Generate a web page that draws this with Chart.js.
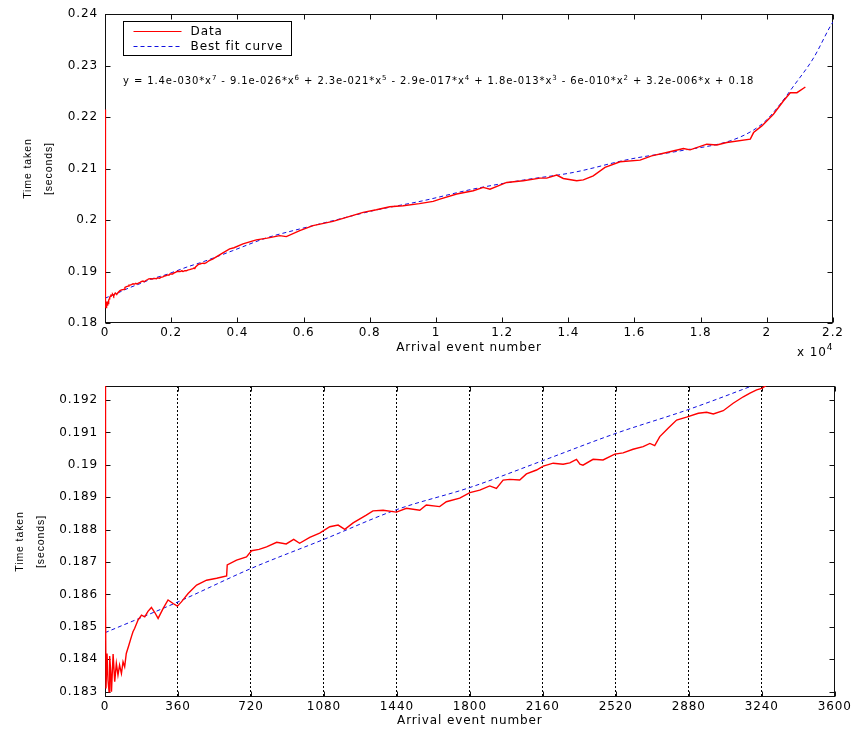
<!DOCTYPE html>
<html>
<head>
<meta charset="utf-8">
<title>Time taken vs arrival event number</title>
<script src="https://cdn.jsdelivr.net/npm/chart.js@4.4.0/dist/chart.umd.min.js"></script>
<style>
  html, body { margin: 0; padding: 0; background: #fff; }
  #wrap { position: relative; width: 853px; height: 729px; }
  #topChart { position: absolute; left: 0; top: 0; }
  #bottomChart { position: absolute; left: 0; top: 370px; }
</style>
</head>
<body>
<div id="wrap">
  <canvas id="topChart" width="853" height="370"></canvas>
  <canvas id="bottomChart" width="853" height="359"></canvas>
</div>
<script>
// measured data (arrival event number, time taken in seconds)
const dataX = [0, 2, 3, 5, 10, 15, 20, 23, 28, 32, 40, 48, 56, 64, 72, 81, 89, 97, 105, 118,
  130, 138, 146, 163, 180, 196, 212, 229, 245, 262, 287, 311, 336, 357, 377, 410, 452, 501, 551, 600,
  603, 649, 698, 723, 760, 797, 847, 894, 931, 960, 1010, 1059, 1109, 1150, 1183, 1224, 1289, 1322, 1372, 1438,
  1487, 1553, 1585, 1651, 1684, 1750, 1800, 1849, 1898, 1931, 1964, 1997, 2046, 2079, 2129, 2162, 2211, 2260, 2293, 2326,
  2343, 2358, 2408, 2457, 2515, 2556, 2605, 2655, 2688, 2712, 2737, 2778, 2820, 2869, 2927, 2968, 3001, 3050, 3099, 3149,
  3182, 3215, 3240, 3265, 3350, 3500, 3766, 3900, 4170, 4573, 4900, 5280, 5480, 5885, 6285, 6890, 7397, 7800, 8200, 8606,
  9010, 9500, 9918, 10120, 10627, 11130, 11430, 11634, 12140, 12640, 13145, 13350, 13650, 13850, 14255, 14455, 14755, 15110, 15565, 16170,
  16520, 16975, 17480, 17680, 18185, 18490, 18790, 19500, 19600, 19850, 20200, 20500, 20710, 20910, 21165];
const dataY = [0.2215, 0.1867, 0.1857, 0.1831, 0.18418, 0.18335, 0.1830, 0.1841, 0.18365, 0.1830, 0.18416, 0.18331, 0.18387, 0.18351, 0.18382, 0.18356, 0.18392, 0.18377, 0.18418, 0.18444,
  0.18469, 0.18485, 0.18495, 0.18521, 0.18536, 0.18531, 0.18548, 0.1856, 0.18545, 0.18526, 0.18557, 0.18583, 0.18572, 0.18564, 0.18577, 0.18603, 0.18629, 0.18644, 0.1865, 0.18657,
  0.18691, 0.18706, 0.18716, 0.18735, 0.18739, 0.18747, 0.18761, 0.18756, 0.1877, 0.18758, 0.18776, 0.18789, 0.18809, 0.18814, 0.18801, 0.18821, 0.18845, 0.18858, 0.1886, 0.18854,
  0.18866, 0.1886, 0.18876, 0.18871, 0.18886, 0.18897, 0.18914, 0.18922, 0.18935, 0.18927, 0.18953, 0.18955, 0.18953, 0.18972, 0.18984, 0.18996, 0.19005, 0.19002, 0.19006, 0.19017,
  0.19002, 0.18999, 0.19017, 0.19015, 0.19033, 0.19037, 0.19048, 0.19056, 0.19066, 0.19059, 0.19087, 0.19113, 0.19138, 0.19147, 0.19159, 0.19162, 0.19157, 0.19167, 0.1919, 0.1921,
  0.19221, 0.19231, 0.19236, 0.19246, 0.1928, 0.1934, 0.1944, 0.19462, 0.19537, 0.19614, 0.1965, 0.19698, 0.19678, 0.19795, 0.19891, 0.19975, 0.20072, 0.20149, 0.202, 0.20258,
  0.20279, 0.2032, 0.20363, 0.20408, 0.20506, 0.2057, 0.20634, 0.206, 0.20731, 0.20764, 0.20815, 0.20815, 0.20874, 0.20808, 0.20764, 0.2078, 0.2086, 0.21022, 0.21132, 0.21165,
  0.21248, 0.21312, 0.2139, 0.21364, 0.21474, 0.2146, 0.21506, 0.21572, 0.217, 0.2183, 0.22056, 0.22314, 0.22475, 0.22475, 0.22585];

// best fit curve
const fitX = [0, 360, 720, 1080, 1440, 1800, 2160, 2520, 2880, 3240, 3865, 4880, 5885, 6890, 8100, 9615, 11130, 12640, 14150, 15865,
  17380, 18890, 19600, 20000, 20400, 20810, 21415, 21920, 22000];
const fitY = [0.18482, 0.18577, 0.1868, 0.1877, 0.18862, 0.1893, 0.19013, 0.19097, 0.19171, 0.19255, 0.19407, 0.19653, 0.19827, 0.19988, 0.20182, 0.20376, 0.20603, 0.20777, 0.20925, 0.21184,
  0.21345, 0.21539, 0.2175, 0.2195, 0.2225, 0.22605, 0.23153, 0.23767, 0.2385];

const topXTicks = [0, 2000, 4000, 6000, 8000, 10000, 12000, 14000, 16000, 18000, 20000, 22000];
const topXLabels = ['0', '0.2', '0.4', '0.6', '0.8', '1', '1.2', '1.4', '1.6', '1.8', '2', '2.2'];
const topYTicks = [0.18, 0.19, 0.2, 0.21, 0.22, 0.23, 0.24];
const topYLabels = ['0.18', '0.19', '0.2', '0.21', '0.22', '0.23', '0.24'];
const bottomXTicks = [0, 360, 720, 1080, 1440, 1800, 2160, 2520, 2880, 3240, 3600];
const bottomYTicks = [0.183, 0.184, 0.185, 0.186, 0.187, 0.188, 0.189, 0.19, 0.191, 0.192];
const bottomYLabels = ['0.183', '0.184', '0.185', '0.186', '0.187', '0.188', '0.189', '0.19', '0.191', '0.192'];

const seriesLabels = ['Data', 'Best fit curve'];
// fitted polynomial text, pieces flagged true are superscripts
const equationParts = [
  ['y = 1.4e-030*x', false], ['7', true], [' - 9.1e-026*x', false], ['6', true],
  [' + 2.3e-021*x', false], ['5', true], [' - 2.9e-017*x', false], ['4', true],
  [' + 1.8e-013*x', false], ['3', true], [' - 6e-010*x', false], ['2', true],
  [' + 3.2e-006*x + 0.18', false]
];

const FONT = "'DejaVu Sans', sans-serif";
Chart.defaults.font.family = FONT;
Chart.defaults.color = '#000';

const pts = (xs, ys) => xs.map((x, i) => ({x: x, y: ys[i]}));

// matlab style box with inward ticks, legend box and extra text
const matlabFrame = {
  id: 'matlabFrame',
  beforeDraw(chart) {
    chart.ctx.letterSpacing = '0.9px';
  },
  beforeDatasetsDraw(chart) {
    const {ctx, chartArea: a, scales} = chart;
    const l = Math.round(a.left) + 0.5, r = Math.round(a.right) - 0.5;
    const t = Math.round(a.top) + 0.5, b = Math.round(a.bottom) - 0.5;
    ctx.save();
    ctx.strokeStyle = '#111';
    ctx.lineWidth = 1;
    ctx.setLineDash([]);
    ctx.strokeRect(l, t, r - l, b - t);
    ctx.beginPath();
    scales.x.ticks.forEach(tk => {
      const px = Math.round(scales.x.getPixelForValue(tk.value)) + 0.5;
      ctx.moveTo(px, b); ctx.lineTo(px, b - 5);
      ctx.moveTo(px, t); ctx.lineTo(px, t + 5);
    });
    scales.y.ticks.forEach(tk => {
      const py = Math.round(scales.y.getPixelForValue(tk.value)) + 0.5;
      ctx.moveTo(l, py); ctx.lineTo(l + 5, py);
      ctx.moveTo(r, py); ctx.lineTo(r - 5, py);
    });
    ctx.stroke();
    ctx.restore();
  },
  afterDatasetsDraw(chart, args, opts) {
    const {ctx, chartArea: a} = chart;
    ctx.save();
    ctx.fillStyle = '#000';
    ctx.textBaseline = 'alphabetic';
    if (opts.legend) {
      const bx = Math.round(a.left) + 18.5, by = Math.round(a.top) + 7.5;
      ctx.fillStyle = '#fff';
      ctx.fillRect(bx, by, 168, 34);
      ctx.strokeStyle = '#000';
      ctx.lineWidth = 1;
      ctx.strokeRect(bx, by, 168, 34);
      chart.data.datasets.forEach((ds, i) => {
        const y = by + 10 + i * 15;
        ctx.strokeStyle = ds.borderColor;
        ctx.setLineDash(ds.borderDash || []);
        ctx.beginPath();
        ctx.moveTo(bx + 10, y);
        ctx.lineTo(bx + 58, y);
        ctx.stroke();
        ctx.setLineDash([]);
        ctx.fillStyle = '#000';
        ctx.font = '12px ' + FONT;
        ctx.textBaseline = 'middle';
        ctx.fillText(ds.label, bx + 67, y);
      });
    }
    if (opts.equation) {
      let x = Math.round(a.left) + 18;
      const base = Math.round(a.top) + 70;
      ctx.fillStyle = '#000';
      ctx.textBaseline = 'alphabetic';
      equationParts.forEach(([txt, sup]) => {
        ctx.font = (sup ? '7px ' : '10px ') + FONT;
        ctx.fillText(txt, x, sup ? base - 4 : base);
        x += ctx.measureText(txt).width;
      });
    }
    if (opts.exponent) {
      const x0 = Math.round(a.right) - 36;
      const base = Math.round(a.bottom) + 33;
      ctx.fillStyle = '#000';
      ctx.textBaseline = 'alphabetic';
      ctx.font = '12px ' + FONT;
      ctx.fillText('x 10', x0, base);
      const w = ctx.measureText('x 10').width;
      ctx.font = '9px ' + FONT;
      ctx.fillText('4', x0 + w, base - 6);
    }
    ctx.restore();
  }
};

function fixedTicks(list) {
  return scale => { scale.ticks = list.map(v => ({value: v})); };
}

function makeChart(id, o) {
  return new Chart(document.getElementById(id), {
    type: 'line',
    data: {
      datasets: [{
        label: seriesLabels[0],
        data: pts(dataX, dataY),
        borderColor: '#ff0000',
        borderWidth: 1.4,
        pointRadius: 0,
        tension: 0
      }, {
        label: seriesLabels[1],
        data: pts(fitX, fitY),
        borderColor: '#1010e0',
        borderWidth: 1,
        borderDash: [4, 3],
        pointRadius: 0,
        cubicInterpolationMode: 'monotone'
      }]
    },
    options: {
      responsive: false,
      animation: false,
      devicePixelRatio: 1,
      layout: {padding: o.padding},
      plugins: {
        legend: {display: false},
        tooltip: {enabled: false},
        matlabFrame: o.frame
      },
      scales: {
        x: {
          type: 'linear',
          min: o.xMin, max: o.xMax,
          afterBuildTicks: fixedTicks(o.xTicks),
          afterFit: s => { s.height = o.xHeight; },
          grid: o.xGrid,
          border: {display: false, dash: [2, 2]},
          ticks: {
            autoSkip: false, maxRotation: 0, padding: o.xPad,
            font: {size: 12},
            callback: (v, i) => o.xLabels[i]
          },
          title: {
            display: true, text: 'Arrival event number',
            font: {size: 12}, padding: {top: 0, bottom: o.xTitlePad}
          }
        },
        y: {
          type: 'linear',
          min: o.yMin, max: o.yMax,
          afterBuildTicks: fixedTicks(o.yTicks),
          afterFit: s => { s.width = o.yWidth; },
          grid: {display: false, drawTicks: false},
          border: {display: false},
          ticks: {
            padding: 7,
            font: {size: 12},
            callback: (v, i) => o.yLabels[i]
          },
          title: {
            display: true, text: ['Time taken', '[seconds]'],
            font: {family: "'Liberation Sans', Arial, sans-serif", size: 10.5, lineHeight: 2.0},
            padding: {top: o.yTitlePad, bottom: 0}
          }
        }
      }
    },
    plugins: [matlabFrame]
  });
}

makeChart('topChart', {
  padding: {left: 0, top: 13, right: 20, bottom: 0},
  xMin: 0, xMax: 22000, xTicks: topXTicks, xLabels: topXLabels,
  yMin: 0.18, yMax: 0.24, yTicks: topYTicks, yLabels: topYLabels,
  xHeight: 47, yWidth: 105, xPad: 3, xTitlePad: 15, yTitlePad: 18,
  xGrid: {display: false, drawTicks: false},
  frame: {legend: true, equation: true, exponent: true}
});

makeChart('bottomChart', {
  padding: {left: 0, top: 16, right: 18, bottom: 0},
  xMin: 0, xMax: 3600, xTicks: bottomXTicks, xLabels: bottomXTicks.map(String),
  yMin: 0.182836, yMax: 0.192432, yTicks: bottomYTicks, yLabels: bottomYLabels,
  xHeight: 32, yWidth: 105, xPad: 3, xTitlePad: 1, yTitlePad: 10,
  xGrid: {display: true, drawTicks: false, color: '#000', lineWidth: 1},
  frame: {}
});
</script>
</body>
</html>
